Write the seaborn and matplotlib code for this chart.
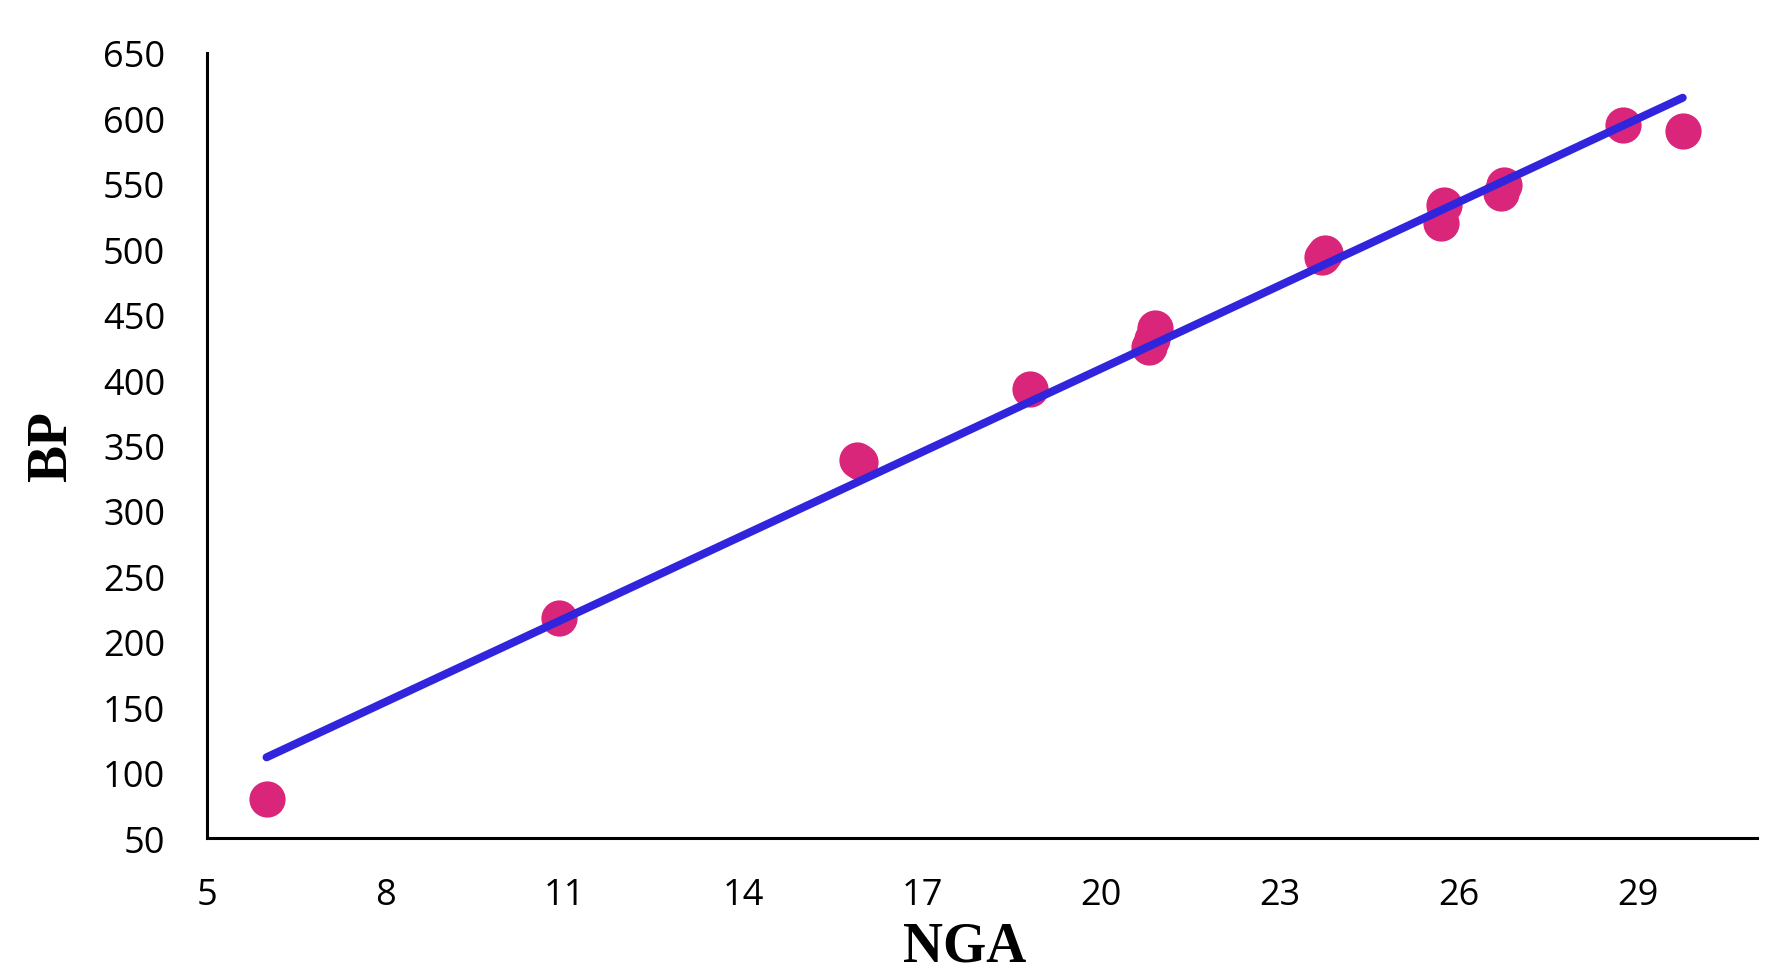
import matplotlib
matplotlib.use("Agg")
import pandas as pd
import seaborn as sns
import matplotlib.pyplot as plt

# values
nga = [6.0, 10.9, 15.9, 15.95, 18.8, 20.8, 20.85, 20.9, 23.7, 23.75,
       25.7, 25.75, 26.7, 26.75, 28.75, 29.75]
bp = [80, 218, 339, 337, 393, 425, 431, 440, 494, 497,
      520, 534, 543, 549, 595, 590]

x_ticks = [5, 8, 11, 14, 17, 20, 23, 26, 29]
y_ticks = [50, 100, 150, 200, 250, 300, 350, 400, 450, 500, 550, 600, 650]

df = pd.DataFrame({"NGA": nga, "BP": bp})

sns.set_theme(style="white")
plt.rcParams["font.family"] = ["Open Sans", "DejaVu Sans"]

fig = plt.figure(figsize=(17.84, 9.78), dpi=100)
ax = fig.add_axes([0.116, 0.142, 0.869, 0.803])

sns.regplot(data=df, x="NGA", y="BP", ci=None, ax=ax,
            scatter_kws=dict(s=680, color="#D9257A", alpha=1, linewidths=0, zorder=2),
            line_kws=dict(color="#3124DD", linewidth=5.8, solid_capstyle="round", zorder=3))

ax.set_xlim(5, 31)
ax.set_ylim(50, 650)
ax.set_xticks(x_ticks)
ax.set_yticks(y_ticks)
ax.tick_params(axis="both", length=0, labelsize=26, colors="black")
ax.tick_params(axis="x", pad=28)
ax.tick_params(axis="y", pad=30)

for side in ["top", "right"]:
    ax.spines[side].set_visible(False)
for side in ["left", "bottom"]:
    ax.spines[side].set_color("black")
    ax.spines[side].set_linewidth(2.2)

ax.set_xlabel("NGA", fontsize=40, fontweight="bold", color="black",
              family=["Liberation Serif"])
ax.xaxis.set_label_coords(0.489, -0.105)
ax.set_ylabel("BP", fontsize=40, fontweight="bold", color="black",
              family=["Liberation Serif"], labelpad=18)

fig.savefig("out.png", dpi=100)
